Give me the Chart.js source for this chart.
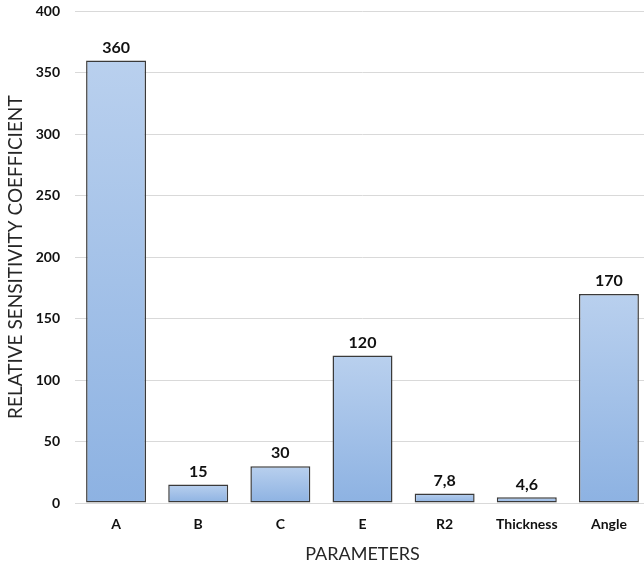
<!DOCTYPE html>
<html>
<head>
<meta charset="utf-8">
<script src="https://cdn.jsdelivr.net/npm/chart.js@4"></script>
<style>
  html, body { margin: 0; padding: 0; background: #fff; overflow: hidden; }
  #wrap { position: absolute; left: 0; top: -12px; width: 650px; height: 577px; }
</style>
</head>
<body>
<div id="wrap"><canvas id="grafico"></canvas></div>
<script>
// parametros e coeficientes
const parametros = ['A', 'B', 'C', 'E', 'R2', 'Thickness', 'Angle'];
const coeficientes = [360, 15, 30, 120, 7.8, 4.6, 170];
const rotulos = ['360', '15', '30', '120', '7,8', '4,6', '170'];
const ticksY = [0, 50, 100, 150, 200, 250, 300, 350, 400];

const fonte = 'Lato, "Liberation Sans", sans-serif';

// gradiente de cada barra, claro em cima e mais escuro embaixo
function corBarra(context) {
  const chart = context.chart;
  if (!chart.chartArea || !chart.scales.y) return '#a6c2e8';
  const y = chart.scales.y;
  const topo = y.getPixelForValue(coeficientes[context.dataIndex]);
  const base = y.getPixelForValue(0);
  const g = chart.ctx.createLinearGradient(0, topo, 0, base);
  g.addColorStop(0, '#b9d0ee');
  g.addColorStop(1, '#8db2e2');
  return g;
}

// escreve o valor em cima das barras
const valores = {
  id: 'valores',
  afterDatasetsDraw(chart) {
    const ctx = chart.ctx;
    const meta = chart.getDatasetMeta(0);
    ctx.save();
    ctx.font = 'bold 16px ' + fonte;
    ctx.fillStyle = '#111';
    ctx.textAlign = 'center';
    ctx.textBaseline = 'bottom';
    meta.data.forEach(function (bar, i) {
      ctx.fillText(rotulos[i], bar.x, bar.y - 5);
    });
    ctx.restore();
  }
};

const myChart = new Chart(document.getElementById('grafico'), {
  type: 'bar',
  data: {
    labels: parametros,
    datasets: [{
      data: coeficientes,
      backgroundColor: corBarra,
      borderColor: '#3a3a3a',
      borderWidth: 1.5,
      borderSkipped: false,
      categoryPercentage: 1,
      barPercentage: 0.73
    }]
  },
  options: {
    responsive: true,
    maintainAspectRatio: false,
    animation: false,
    layout: { padding: { top: 0, right: 0, left: 4, bottom: 0 } },
    plugins: {
      legend: { display: false },
      tooltip: { enabled: false }
    },
    scales: {
      x: {
        grid: { display: false, drawTicks: false },
        border: { color: '#d9d9d9', width: 1 },
        ticks: {
          color: '#111',
          font: { family: fonte, size: 14, weight: 'bold' },
          padding: 13
        },
        title: {
          display: true,
          text: 'PARAMETERS',
          color: '#262626',
          font: { family: fonte, size: 18 },
          padding: { top: 4, bottom: 0 }
        },
        afterFit(scale) { scale.height = 62; }
      },
      y: {
        min: 0,
        max: 400,
        afterBuildTicks(scale) {
          scale.ticks = ticksY.map(function (v) { return { value: v }; });
        },
        grid: { color: '#d9d9d9', drawTicks: false },
        border: { display: false },
        ticks: {
          color: '#111',
          font: { family: fonte, size: 14, weight: 'bold' },
          padding: 15
        },
        title: {
          display: true,
          text: 'RELATIVE SENSITIVITY COEFFICIENT',
          color: '#262626',
          font: { family: fonte, size: 19 },
          padding: { top: 0, bottom: 2 }
        },
        afterFit(scale) { scale.width = 71; }
      }
    }
  },
  plugins: [valores]
});
</script>
</body>
</html>
